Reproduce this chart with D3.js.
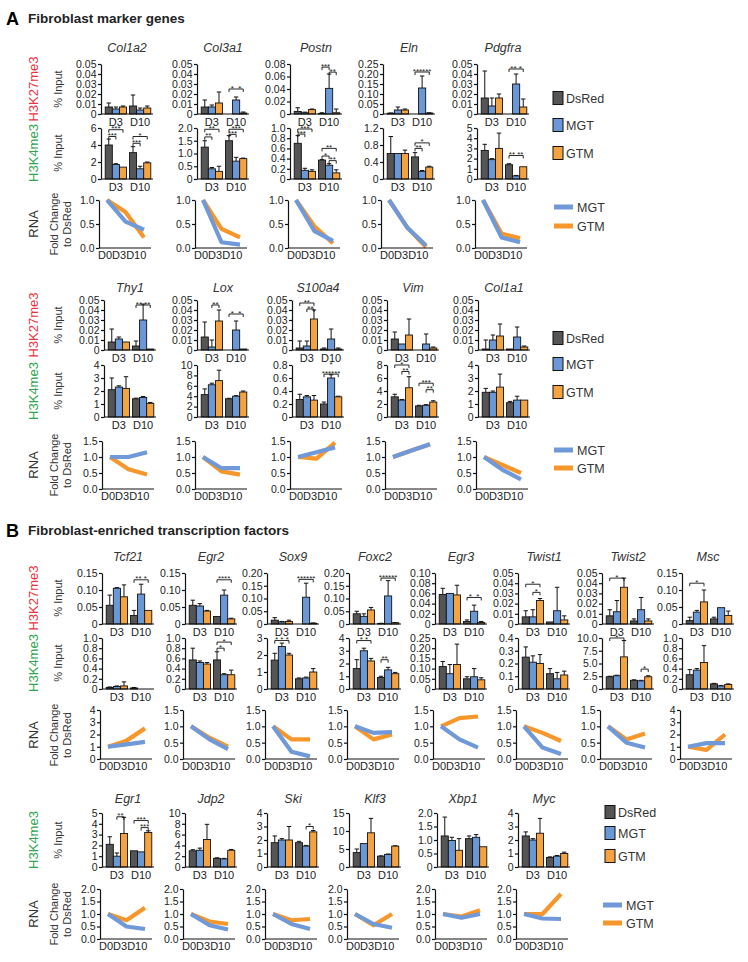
<!DOCTYPE html>
<html><head><meta charset="utf-8">
<script src="https://cdn.jsdelivr.net/npm/d3@7"></script>
<style>body{margin:0;background:#fff} text{font-family:"Liberation Sans",Arial,sans-serif}</style>
</head><body><svg id="c" width="748" height="962"></svg>
<script>
const series = ["DsRed","MGT","GTM"];
const groups = ["D3","D10"];
const days = ["D0","D3","D10"];
const barColors = ["#555555","#6a98d6","#f5a241"];
const lineColors = ["#6f99d8","#f7962b"]; // MGT, GTM

// ---------- Section A, row 1 ----------
const genesA1 = ["Col1a2","Col3a1","Postn","Eln","Pdgfra"];
const k27A1Ticks = [
 ["0","0.01","0.02","0.03","0.04","0.05"],["0","0.01","0.02","0.03","0.04","0.05"],
 ["0","0.02","0.04","0.06","0.08"],["0","0.05","0.10","0.15","0.20","0.25"],
 ["0","0.01","0.02","0.03","0.04","0.05"]];
const k27A1Mean = [
 [[0.007,0.005,0.007],[0.008,0.004,0.006]],
 [[0.007,0.007,0.011],[0,0.014,0.001]],
 [[0.004,0.002,0.007],[0.001,0.041,0.002]],
 [[0.004,0.02,0.02],[0,0.13,0.005]],
 [[0.016,0.008,0.016],[0,0.03,0.007]]];
const k27A1Err = [
 [[0.011,0.007,0.008],[0.019,0.006,0.008]],
 [[0.014,0.009,0.022],[0,0.017,0.002]],
 [[0.01,0.003,0.008],[0.002,0.064,0.008]],
 [[0.005,0.035,0.025],[0,0.19,0.006]],
 [[0.043,0.016,0.02],[0,0.04,0.015]]];
const k27A1Sig = [[1,1,0,2,0.025,"*  *"],[2,1,0,1,0.075,"***"],[2,1,1,2,0.067,"**"],[3,1,0,2,0.21,"******"],[4,1,0,2,0.045,"** *"]];
const k4A1Ticks = [["0","2","4","6"],["0","0.5","1.0","1.5","2.0"],["0","0.2","0.4","0.6","0.8","1.0"],["0","0.4","0.8","1.2"],["0","1","2","3","4","5"]];
const k4A1Mean = [
 [[4.0,1.7,1.4],[3.1,1.2,1.9]],
 [[1.25,0.4,0.3],[1.5,0.7,0.8]],
 [[0.7,0.17,0.15],[0.37,0.27,0.12]],
 [[0.6,0.6,0.6],[0.52,0.18,0.28]],
 [[2.8,1.9,3.0],[1.4,0.3,1.2]]];
const k4A1Err = [
 [[4.7,1.8,1.4],[3.8,1.5,2.0]],
 [[1.5,0.45,0.5],[1.7,0.85,0.82]],
 [[0.85,0.21,0.18],[0.38,0.3,0.18]],
 [[1.0,0.6,0.68],[0.62,0.2,0.3]],
 [[3.4,2.0,4.5],[1.5,0.35,1.2]]];
const k4A1Sig = [
 [0,0,0,2,5.8,"***"],[0,0,0,1,5.0,"***"],[0,1,0,2,5.0,"*"],[0,1,0,1,4.2,"***"],
 [1,0,0,2,1.95,"**"],[1,0,0,1,1.65,"**"],[1,1,0,2,1.95,"***"],[1,1,0,1,1.75,"***"],
 [2,0,0,2,0.98,"***"],[2,0,0,1,0.88,"***"],[2,1,0,2,0.6,"**"],[2,1,0,1,0.45,"*"],[2,1,1,2,0.36,"**"],
 [3,1,0,2,0.85,"*"],[3,1,0,1,0.72,"**"],[4,1,0,2,2.3,"** **"]];
const rnaA1Ticks = ["0.0","0.5","1.0"];
const rnaA1MGT = [[1,0.55,0.38],[1,0.12,0.07],[1,0.35,0.15],[1,0.42,0.05],[1,0.22,0.12]];
const rnaA1GTM = [[1,0.75,0.22],[1,0.4,0.22],[1,0.45,0.1],[1,0.42,0.02],[1,0.3,0.2]];

// ---------- Section A, row 2 ----------
const genesA2 = ["Thy1","Lox","S100a4","Vim","Col1a1"];
const k27A2Ticks = ["0","0.01","0.02","0.03","0.04","0.05"];
const k27A2Mean = [
 [[0.008,0.011,0.008],[0.004,0.03,0.001]],
 [[0.013,0.003,0.029],[0,0.02,0.001]],
 [[0.002,0.004,0.031],[0.001,0.011,0.001]],
 [[0.011,0.006,0.015],[0,0.006,0.002]],
 [[0.001,0.01,0.014],[0.001,0.013,0.003]]];
const k27A2Err = [
 [[0.021,0.013,0.008],[0.009,0.046,0.001]],
 [[0.028,0.01,0.04],[0,0.029,0.001]],
 [[0.009,0.009,0.04],[0.002,0.021,0.002]],
 [[0.018,0.006,0.031],[0,0.016,0.003]],
 [[0.01,0.015,0.026],[0.001,0.023,0.004]]];
const k27A2Sig = [[0,1,0,2,0.045,"** **"],[1,0,1,2,0.045,"**"],[1,1,0,2,0.036,"*  *"],[2,0,0,2,0.047,"**"],[2,0,1,2,0.041,"**"]];
const k4A2Ticks = [["0","1","2","3","4"],["0","2","4","6","8","10"],["0","0.2","0.4","0.6","0.8"],["0","2","4","6","8"],["0","1","2","3","4"]];
const k4A2Mean = [
 [[2.1,2.3,2.2],[1.4,1.5,1.05]],
 [[4.3,6.2,7.0],[3.5,4.0,4.8]],
 [[0.27,0.31,0.26],[0.2,0.6,0.31]],
 [[3.1,2.6,4.5],[1.7,1.8,2.3]],
 [[1.9,1.9,2.3],[1.1,1.3,1.3]]];
const k4A2Err = [
 [[3.0,2.4,3.1],[1.45,1.58,1.12]],
 [[5.4,6.5,9.0],[3.6,4.1,5.0]],
 [[0.35,0.33,0.33],[0.23,0.65,0.32]],
 [[3.5,2.7,6.2],[1.8,1.9,2.5]],
 [[2.2,2.0,3.3],[1.2,1.6,1.3]]];
const k4A2Sig = [[2,1,0,2,0.66,"******"],[2,1,1,1,0.8,"*"],[3,0,0,2,8.0,"*"],[3,0,1,2,7.0,"**"],[3,1,0,2,5.2,"***"],[3,1,1,2,4.2,"**"]];
const rnaA2Ticks = ["0.0","0.5","1.0","1.5"];
const rnaA2MGT = [[1,1.0,1.15],[1,0.65,0.65],[1,1.15,1.3],[1,1.2,1.4],[1,0.6,0.3]];
const rnaA2GTM = [[1,0.62,0.45],[1,0.55,0.45],[1,0.95,1.45],[1,1.2,1.4],[1,0.75,0.5]];

// ---------- Section B, row 1 ----------
const genesB1 = ["Tcf21","Egr2","Sox9","Foxc2","Egr3","Twist1","Twist2","Msc"];
const k27B1Ticks = [
 ["0","0.05","0.10","0.15"],["0","0.05","0.10","0.15"],
 ["0","0.05","0.10","0.15","0.20"],["0","0.05","0.10","0.15","0.20"],
 ["0","0.02","0.04","0.06","0.08","0.10"],["0","0.01","0.02","0.03","0.04","0.05"],
 ["0","0.01","0.02","0.03","0.04","0.05"],["0","0.05","0.10","0.15"]];
const k27B1Mean = [
 [[0.055,0.105,0.08],[0.025,0.088,0.04]],
 [[0.055,0.053,0.038],[0.022,0.085,0.015]],
 [[0.015,0.008,0.01],[0,0.105,0.003]],
 [[0.04,0.03,0.055],[0.002,0.11,0.005]],
 [[0.058,0.06,0.057],[0.005,0.025,0.003]],
 [[0.007,0.007,0.023],[0.002,0.013,0.004]],
 [[0.008,0.012,0.036],[0.003,0.014,0.003]],
 [[0.01,0.035,0.065],[0.015,0.048,0.025]]];
const k27B1Err = [
 [[0.085,0.107,0.115],[0.04,0.117,0.04]],
 [[0.07,0.06,0.04],[0.022,0.1,0.017]],
 [[0.025,0.01,0.015],[0,0.16,0.004]],
 [[0.05,0.04,0.065],[0.003,0.17,0.006]],
 [[0.07,0.06,0.076],[0.008,0.037,0.005]],
 [[0.013,0.014,0.025],[0.002,0.036,0.008]],
 [[0.014,0.023,0.045],[0.005,0.026,0.005]],
 [[0.02,0.04,0.1],[0.02,0.048,0.038]]];
const k27B1Sig = [[0,1,0,2,0.13,"** *"],[1,1,0,2,0.13,"****"],[2,1,0,2,0.175,"******"],[3,1,0,2,0.18,"******"],[4,1,0,2,0.052,"*  *"],[5,0,0,2,0.039,"*"],[5,0,1,2,0.031,"*"],[6,0,0,2,0.045,"*"],[7,0,0,2,0.12,"*"]];
const k4B1Ticks = [
 ["0","0.2","0.4","0.6","0.8","1.0"],["0","0.2","0.4","0.6","0.8","1.0"],
 ["0","1","2","3"],["0","1","2","3","4"],
 ["0","0.05","0.10","0.15","0.20","0.25"],["0","0.1","0.2","0.3","0.4"],
 ["0","2.5","5.0","7.5","10.0"],["0","0.2","0.4","0.6","0.8","1.0"]];
const k4B1Mean = [
 [[0.03,0.05,0.06],[0.02,0,0]],
 [[0.57,0.52,0.49],[0.57,0.28,0.28]],
 [[1.7,2.5,2.0],[0.6,0.65,1.0]],
 [[1.6,3.0,2.2],[0.9,1.5,1.2]],
 [[0.11,0.075,0.12],[0.05,0.06,0.045]],
 [[0.25,0.21,0.2],[0.12,0.08,0.11]],
 [[2.4,2.6,6.3],[1.7,1.6,2.4]],
 [[0.28,0.37,0.52],[0.1,0.06,0.09]]];
const k4B1Err = [
 [[0.04,0.06,0.14],[0.03,0,0]],
 [[0.8,0.55,0.52],[0.73,0.3,0.37]],
 [[2.1,2.7,2.1],[0.65,0.7,1.2]],
 [[2.3,3.2,2.4],[1.0,1.7,1.3]],
 [[0.135,0.12,0.22],[0.06,0.1,0.055]],
 [[0.33,0.26,0.27],[0.16,0.13,0.14]],
 [[2.5,2.7,9.5],[1.8,1.7,2.6]],
 [[0.38,0.4,0.85],[0.11,0.07,0.1]]];
const k4B1Sig = [[1,1,0,2,0.92,"*"],[1,1,0,1,0.8,"*"],[2,0,0,2,2.85,"* * *"],[3,0,0,2,3.8,"* *"],[3,1,0,1,2.3,"**"],[6,0,0,2,10,"*"],[6,1,1,2,3.9,"*"]];
const rnaB1Ticks = [["0","1","2","3","4"],["0.0","0.5","1.0","1.5"],["0.0","0.5","1.0","1.5"],["0.0","0.5","1.0","1.5"],
 ["0.0","0.5","1.0","1.5"],["0.0","0.5","1.0","1.5"],["0.0","0.5","1.0","1.5"],["0","1","2","3","4"]];
const rnaB1MGT = [[1,1.2,1.4],[1,0.6,0.3],[1,0.22,0.08],[1,0.8,0.82],[1,0.6,0.35],[1,0.35,0.15],[1,0.5,0.35],[1,1.3,1.3]];
const rnaB1GTM = [[1,1.5,2.5],[1,0.65,0.38],[1,0.6,0.6],[1,0.6,0.75],[1,1.25,1.3],[1,0.8,0.55],[1,0.6,0.78],[1,0.75,2.0]];

// ---------- Section B, row 2 ----------
const genesB2 = ["Egr1","Jdp2","Ski","Klf3","Xbp1","Myc"];
const k4B2Ticks = [["0","1","2","3","4","5"],["0","2","4","6","8","10"],["0","1","2","3","4"],["0","5","10","15"],["0","0.5","1.0","1.5","2.0"],["0","1","2","3","4"]];
const k4B2Mean = [
 [[2.1,1.0,3.1],[1.5,1.4,3.2]],
 [[3.0,3.1,5.1],[1.6,1.5,3.1]],
 [[1.8,2.0,2.0],[1.8,1.55,2.6]],
 [[4.0,6.5,9.5],[3.0,3.5,5.8]],
 [[1.15,0.98,0.62],[1.05,1.1,0.75]],
 [[2.3,2.0,2.5],[0.7,0.8,1.0]]];
const k4B2Err = [
 [[2.8,1.3,4.6],[1.5,1.4,3.35]],
 [[3.2,3.5,7.9],[1.7,1.6,3.25]],
 [[2.3,2.1,3.0],[1.9,1.6,2.7]],
 [[5.0,6.5,13.5],[3.1,3.6,5.9]],
 [[1.85,1.1,1.05],[1.15,1.2,0.75]],
 [[2.6,2.1,3.6],[0.75,0.85,1.1]]];
const k4B2Sig = [[0,0,1,2,4.65,"**"],[0,1,0,2,4.3,"***"],[0,1,1,2,3.65,"***"],[2,1,1,2,3.0,"*"]];
const rnaB2Ticks = ["0.0","0.5","1.0","1.5","2.0"];
const rnaB2MGT = [[1,0.5,0.4],[1,0.55,0.38],[1,0.6,0.4],[1,0.6,0.45],[1,0.85,1.0],[1,0.82,0.8]];
const rnaB2GTM = [[1,0.75,1.25],[1,0.7,0.6],[1,0.75,0.8],[1,0.55,1.0],[1,0.9,1.15],[1,1.0,1.8]];

// ================= drawing =================
const svg = d3.select("#c");
const W = 51;
const FF = '"Liberation Sans",Arial,sans-serif';

function yAxis(g, x0, y, ticks) {
  const vals = ticks.map(Number);
  const ax = d3.axisLeft(y).tickValues(vals).tickFormat((d,i)=>ticks[i]).tickSize(3).tickPadding(1.5).tickSizeOuter(0);
  const a = g.append("g").attr("transform",`translate(${x0},0)`).call(ax);
  a.attr("font-family",FF).attr("font-size",10.5);
  a.selectAll("path,line").attr("stroke","#111").attr("stroke-width",1.2);
  a.selectAll("text").attr("fill","#222");
}

function drawBars(x0, yTop, yBot, ticks, mean, err, sig) {
  const g = svg.append("g");
  const max = +ticks[ticks.length-1];
  const y = d3.scaleLinear().domain([0,max]).range([yBot,yTop]);
  const xg = d3.scaleBand().domain(groups).range([x0+3, x0+W]).paddingInner(0.12).paddingOuter(0.05);
  const xs = d3.scaleBand().domain(series).range([0, xg.bandwidth()]);
  groups.forEach((gr,gi)=>{
    series.forEach((s,si)=>{
      const m = mean[gi][si], e = err[gi][si];
      const bx = xg(gr)+xs(s), bw = xs.bandwidth(), cx = bx+bw/2;
      if (e > m) {
        g.append("line").attr("x1",cx).attr("x2",cx).attr("y1",y(m)).attr("y2",y(e)).attr("stroke","#111").attr("stroke-width",1);
        g.append("line").attr("x1",cx-2.2).attr("x2",cx+2.2).attr("y1",y(e)).attr("y2",y(e)).attr("stroke","#111").attr("stroke-width",1);
      }
      if (m > 0) {
        g.append("rect").attr("x",bx).attr("y",y(m)).attr("width",bw).attr("height",y(0)-y(m))
          .attr("fill",barColors[si]).attr("stroke","#111").attr("stroke-width",0.9);
      }
    });
    g.append("text").attr("x",xg(gr)+xg.bandwidth()/2).attr("y",yBot+12).attr("text-anchor","middle")
      .attr("font-size",11).attr("fill","#222").text(gr);
  });
  sig.forEach(([gi,f,t,v,lab])=>{
    const xL = xg(groups[gi])+xs(series[f])+xs.bandwidth()/2;
    const xR = xg(groups[gi])+xs(series[t])+xs.bandwidth()/2;
    const yy = y(v);
    if (f!==t) {
      g.append("path").attr("d",`M${xL},${yy+3}V${yy}H${xR}V${yy+3}`).attr("fill","none").attr("stroke","#111").attr("stroke-width",0.9);
    }
    g.append("text").attr("x",(xL+xR)/2).attr("y",yy+1.5).attr("text-anchor","middle")
      .attr("font-size",8).attr("fill","#222").attr("xml:space","preserve").text(lab);
  });
  g.append("line").attr("x1",x0).attr("x2",x0+W+1).attr("y1",yBot).attr("y2",yBot).attr("stroke","#111").attr("stroke-width",1.2);
  yAxis(g, x0, y, ticks);
}

function drawRna(x0, yTop, yBot, ticks, mgt, gtm) {
  const g = svg.append("g");
  const max = +ticks[ticks.length-1];
  const y = d3.scaleLinear().domain([0,max]).range([yBot,yTop]);
  const x = d3.scalePoint().domain(days).range([x0+8, x0+45]);
  const line = d3.line().x((d,i)=>x(days[i])).y(d=>y(d));
  g.append("path").attr("d",line(gtm)).attr("fill","none").attr("stroke",lineColors[1]).attr("stroke-width",4.2).attr("stroke-linejoin","round");
  g.append("path").attr("d",line(mgt)).attr("fill","none").attr("stroke",lineColors[0]).attr("stroke-width",4.2).attr("stroke-linejoin","round");
  // day labels set tight together, as in the reference ("D0D3D10")
  const lab = g.append("text").attr("x",x0-1).attr("y",yBot+11).attr("font-size",11).attr("fill","#222");
  lab.selectAll("tspan").data(days).join("tspan").text(d=>d);
  g.append("line").attr("x1",x0).attr("x2",x0+W+1).attr("y1",yBot).attr("y2",yBot).attr("stroke","#111").attr("stroke-width",1.2);
  yAxis(g, x0, y, ticks);
}

function title(x, y, txt) {
  svg.append("text").attr("x",x).attr("y",y).attr("text-anchor","middle").attr("font-size",12.5)
    .attr("font-style","italic").attr("fill","#333").text(txt);
}
function vlabel(x, cy, txt, color, size) {
  svg.append("text").attr("transform",`translate(${x},${cy}) rotate(-90)`).attr("text-anchor","middle")
    .attr("font-size",size).attr("fill",color).text(txt);
}
function rowLabelsMark(cy, mark, color) {
  vlabel(38, cy, mark, color, 13);
  vlabel(62, cy, "% Input", "#333", 11);
}
function rowLabelsRna(cy) {
  vlabel(38, cy, "RNA", "#333", 13);
  vlabel(58, cy, "Fold Change", "#333", 11);
  vlabel(71, cy, "to DsRed", "#333", 11);
}
function barLegend(x, ys) {
  series.forEach((s,i)=>{
    svg.append("rect").attr("x",x).attr("y",ys[i]-6.5).attr("width",10).attr("height",13)
      .attr("fill",barColors[i]).attr("stroke","#111").attr("stroke-width",1);
    svg.append("text").attr("x",x+13).attr("y",ys[i]+4.5).attr("font-size",12.5).attr("fill","#333").text(s);
  });
}
function lineLegend(x, ys) {
  ["MGT","GTM"].forEach((s,i)=>{
    svg.append("line").attr("x1",x).attr("x2",x+19).attr("y1",ys[i]).attr("y2",ys[i])
      .attr("stroke",lineColors[i]).attr("stroke-width",5);
    svg.append("text").attr("x",x+23).attr("y",ys[i]+4.5).attr("font-size",12.5).attr("fill","#333").text(s);
  });
}

// headers
svg.append("text").attr("x",6).attr("y",25).attr("font-size",18).attr("font-weight","bold").text("A");
svg.append("text").attr("x",28).attr("y",23).attr("font-size",13.5).attr("font-weight","bold").attr("fill","#222").text("Fibroblast marker genes");
svg.append("text").attr("x",6).attr("y",537).attr("font-size",18).attr("font-weight","bold").text("B");
svg.append("text").attr("x",28).attr("y",535).attr("font-size",13.5).attr("font-weight","bold").attr("fill","#222").text("Fibroblast-enriched transcription factors");

const RED = "#e8343f", GREEN = "#2ea44f";

// Row A1
const colsA1 = [101,197,290,383,477];
genesA1.forEach((gname,i)=>{
  const x0 = colsA1[i];
  title(x0+26, 52, gname);
  drawBars(x0, 64, 114, k27A1Ticks[i], k27A1Mean[i], k27A1Err[i], k27A1Sig.filter(s=>s[0]===i).map(s=>s.slice(1)));
  drawBars(x0, 128, 179, k4A1Ticks[i], k4A1Mean[i], k4A1Err[i], k4A1Sig.filter(s=>s[0]===i).map(s=>s.slice(1)));
  drawRna(x0-2, 200, 248, rnaA1Ticks, rnaA1MGT[i], rnaA1GTM[i]);
});
rowLabelsMark(89, "H3K27me3", RED);
rowLabelsMark(153, "H3K4me3", GREEN);
rowLabelsRna(224);
barLegend(553, [98,125,153]);
lineLegend(554, [207,226]);

// Row A2
const colsA2 = [104,197,292,387,478];
genesA2.forEach((gname,i)=>{
  const x0 = colsA2[i];
  title(x0+26, 292, gname);
  drawBars(x0, 300, 350, k27A2Ticks, k27A2Mean[i], k27A2Err[i], k27A2Sig.filter(s=>s[0]===i).map(s=>s.slice(1)));
  drawBars(x0, 365, 417, k4A2Ticks[i], k4A2Mean[i], k4A2Err[i], k4A2Sig.filter(s=>s[0]===i).map(s=>s.slice(1)));
  drawRna(x0-2, 441, 489, rnaA2Ticks, rnaA2MGT[i], rnaA2GTM[i]);
});
rowLabelsMark(325, "H3K27me3", RED);
rowLabelsMark(391, "H3K4me3", GREEN);
rowLabelsRna(465);
barLegend(553, [338,364,392]);
lineLegend(554, [450,468]);

// Row B1
const colsB1 = [102,185,267,349,435,518,602,682];
genesB1.forEach((gname,i)=>{
  const x0 = colsB1[i];
  title(x0+26, 561, gname);
  drawBars(x0, 573, 624, k27B1Ticks[i], k27B1Mean[i], k27B1Err[i], k27B1Sig.filter(s=>s[0]===i).map(s=>s.slice(1)));
  drawBars(x0, 638, 689, k4B1Ticks[i], k4B1Mean[i], k4B1Err[i], k4B1Sig.filter(s=>s[0]===i).map(s=>s.slice(1)));
  drawRna(x0-2, 710, 759, rnaB1Ticks[i], rnaB1MGT[i], rnaB1GTM[i]);
});
rowLabelsMark(598, "H3K27me3", RED);
rowLabelsMark(663, "H3K4me3", GREEN);
rowLabelsRna(735);

// Row B2
const colsB2 = [102,185,267,349,437,518];
genesB2.forEach((gname,i)=>{
  const x0 = colsB2[i];
  title(x0+26, 803, gname);
  drawBars(x0, 813, 867, k4B2Ticks[i], k4B2Mean[i], k4B2Err[i], k4B2Sig.filter(s=>s[0]===i).map(s=>s.slice(1)));
  drawRna(x0-2, 889, 939, rnaB2Ticks, rnaB2MGT[i], rnaB2GTM[i]);
});
rowLabelsMark(840, "H3K4me3", GREEN);
rowLabelsRna(914);
barLegend(605, [812,833,856]);
lineLegend(603, [905,923]);
</script></body></html>
